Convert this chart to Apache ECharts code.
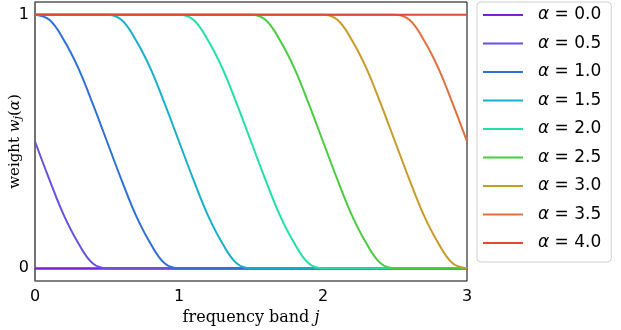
<!DOCTYPE html>
<html>
<head>
<meta charset="utf-8">
<script src="https://cdn.jsdelivr.net/npm/echarts@6/dist/echarts.min.js"></script>
<style>html,body{margin:0;padding:0;background:#fff;}#c{width:621px;height:330px;}</style>
</head>
<body>
<div id="c"></div>
<script>
// frequency band j (x values)
const bands = [0,0.1,0.2,0.3,0.4,0.5,0.6,0.7,0.8,0.9,1.0,1.1,1.2,1.3,1.4,1.5,1.6,1.7,1.8,1.9,2.0,2.1,2.2,2.3,2.4,2.5,2.6,2.7,2.8,2.9,3.0];
const alphaLabels = ['0.0','0.5','1.0','1.5','2.0','2.5','3.0','3.5','4.0'];
const w00 = [0,0,0,0,0,0,0,0,0,0,0,0,0,0,0,0,0,0,0,0,0,0,0,0,0,0,0,0,0,0,0];
const w05 = [0.5,0.35,0.21,0.1,0.02,0,0,0,0,0,0,0,0,0,0,0,0,0,0,0,0,0,0,0,0,0,0,0,0,0,0];
const w10 = [1,0.98,0.9,0.79,0.65,0.5,0.35,0.21,0.1,0.02,0,0,0,0,0,0,0,0,0,0,0,0,0,0,0,0,0,0,0,0,0];
const w15 = [1,1,1,1,1,1,0.98,0.9,0.79,0.65,0.5,0.35,0.21,0.1,0.02,0,0,0,0,0,0,0,0,0,0,0,0,0,0,0,0];
const w20 = [1,1,1,1,1,1,1,1,1,1,1,0.98,0.9,0.79,0.65,0.5,0.35,0.21,0.1,0.02,0,0,0,0,0,0,0,0,0,0,0];
const w25 = [1,1,1,1,1,1,1,1,1,1,1,1,1,1,1,1,0.98,0.9,0.79,0.65,0.5,0.35,0.21,0.1,0.02,0,0,0,0,0,0];
const w30 = [1,1,1,1,1,1,1,1,1,1,1,1,1,1,1,1,1,1,1,1,1,0.98,0.9,0.79,0.65,0.5,0.35,0.21,0.1,0.02,0];
const w35 = [1,1,1,1,1,1,1,1,1,1,1,1,1,1,1,1,1,1,1,1,1,1,1,1,1,1,0.98,0.9,0.79,0.65,0.5];
const w40 = [1,1,1,1,1,1,1,1,1,1,1,1,1,1,1,1,1,1,1,1,1,1,1,1,1,1,1,1,1,1,1];
const xTicks = [0,1,2,3];
const yTicks = [0,1];

const weights = [w00,w05,w10,w15,w20,w25,w30,w35,w40];
const colors = ['#7a1fd8','#6a50e0','#2f70d8','#18b0c8','#20e0a8','#48cc40','#c89a28','#e07040','#e04838'];

const chart = echarts.init(document.getElementById('c'), null, {renderer:'canvas'});
const series = weights.map((w,i)=>({
  name: 'a'+alphaLabels[i],
  type: 'line',
  data: bands.map((x,k)=>[x,w[k]]),
  showSymbol: false,
  smooth: 0.4,
  lineStyle: {color: colors[i], width: 2},
  itemStyle: {color: colors[i]},
  emphasis: {disabled: true},
  animation: false
}));

chart.setOption({
  animation: false,
  backgroundColor: '#fff',
  grid: {left: 35, right: 154, top: 2, bottom: 49, outerBoundsMode: 'none', containLabel: false,
    show: true, borderColor: '#000', borderWidth: 1, backgroundColor: 'transparent'},
  xAxis: {
    type: 'value', min: 0, max: 3, interval: 1,
    axisLine: {show: true, lineStyle: {color: '#6e6e6e', width: 1.5}},
    axisTick: {show: false},
    splitLine: {show: false},
    axisLabel: {color: '#000', fontFamily: 'DejaVu Sans', fontSize: 16, margin: 8,
      formatter: v => xTicks.includes(v) ? String(v) : ''},
    name: '{r|frequency band }{i|j}',
    nameLocation: 'middle', nameGap: 29, nameMoveOverlap: false,
    nameTextStyle: {rich: {
      r: {fontFamily: 'DejaVu Serif', fontSize: 16, color: '#000'},
      i: {fontFamily: 'DejaVu Serif', fontStyle: 'italic', fontSize: 16, color: '#000'}
    }}
  },
  yAxis: {
    type: 'value', min: -0.05, max: 1.05,
    axisLine: {show: true, lineStyle: {color: '#6e6e6e', width: 1.5}},
    axisTick: {show: false},
    splitLine: {show: false},
    axisLabel: {color: '#000', fontFamily: 'DejaVu Sans', fontSize: 16, margin: 6,
      customValues: yTicks, formatter: v => String(v)},
    name: '{r|weight }{i|w}{s|j}{r|(}{i|α}{r|)}',
    nameLocation: 'middle', nameGap: 11, nameRotate: 90, nameMoveOverlap: false,
    nameTextStyle: {rich: {
      r: {fontFamily: 'DejaVu Serif', fontSize: 15, color: '#000'},
      i: {fontFamily: 'DejaVu Serif', fontStyle: 'italic', fontSize: 15, color: '#000'},
      s: {fontFamily: 'DejaVu Serif', fontStyle: 'italic', fontSize: 11, color: '#000', verticalAlign: 'bottom', padding: [6,0,0,0]}
    }}
  },
  legend: {
    orient: 'vertical', left: 477, top: 2,
    padding: [3, 10, 9, 6],
    itemGap: 8.5, itemWidth: 40, itemHeight: 2,
    icon: 'rect',
    backgroundColor: '#fff', borderColor: '#d0d0d0', borderWidth: 1, borderRadius: 4,
    selectedMode: false,
    data: alphaLabels.map(l=>'a'+l),
    formatter: n => '{g|}{a|α}{t| = ' + n.slice(1) + '}',
    textStyle: {
      lineHeight: 20,
      rich: {
        g: {width: 10},
        a: {fontFamily: 'DejaVu Sans', fontStyle: 'italic', fontSize: 17, color: '#000', lineHeight: 20},
        t: {fontFamily: 'DejaVu Sans', fontSize: 17, color: '#000', lineHeight: 20}
      }
    }
  },
  series: series
});
</script>
</body>
</html>
